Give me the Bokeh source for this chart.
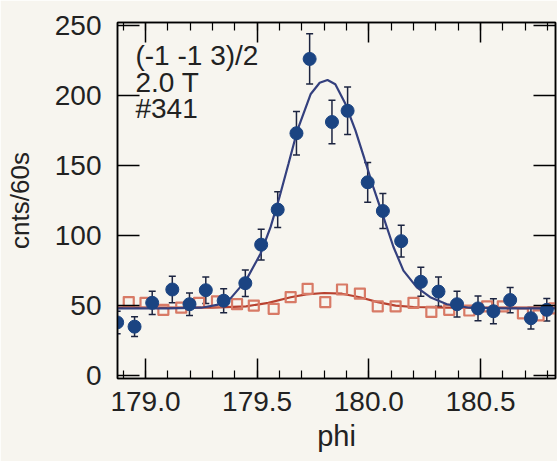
from bokeh.plotting import figure
from bokeh.models import (ColumnDataSource, Whisker, TeeHead, LinearAxis, Range1d,
                          SingleIntervalTicker, PrintfTickFormatter, Label)
from bokeh.embed import file_html
from bokeh.resources import INLINE

# ---- data ----
on_phi = [178.873, 178.951, 179.03, 179.12, 179.197, 179.27, 179.35, 179.447, 179.518,
          179.592, 179.676, 179.735, 179.835, 179.905, 179.995, 180.063, 180.145, 180.233,
          180.312, 180.395, 180.489, 180.558, 180.633, 180.726, 180.797]
on_cnt = [38, 35, 52, 61.5, 51, 61, 53.5, 66, 93.5, 118.5, 173, 226, 181, 189, 138,
          117.5, 96, 67, 60, 51, 48, 46, 54, 41, 47]
on_err = [8, 7, 8.3, 9.4, 8, 9.5, 8.5, 9.5, 11, 12.7, 15.5, 17.9, 15.5, 16.9, 14.2,
          12.5, 11.4, 10.4, 10.5, 9.2, 8.8, 8.9, 9, 7.7, 8]

off_phi = [178.925, 179.0, 179.08, 179.16, 179.24, 179.32, 179.41, 179.485, 179.574,
           179.65, 179.726, 179.805, 179.88, 179.96, 180.04, 180.12, 180.20, 180.28,
           180.36, 180.45, 180.53, 180.60, 180.69, 180.76, 180.83]
off_cnt = [52.5, 52, 47, 48.5, 52, 53, 51, 50, 47.7, 56, 62, 52.5, 61.5, 58.5, 49.5,
           49.5, 52, 45.5, 47, 46.5, 49.5, 49.5, 44.5, 43, 48]

on_fit_phi = [178.875, 179.10, 179.25, 179.32, 179.38, 179.45, 179.515, 179.56, 179.60,
              179.64, 179.68, 179.74, 179.78, 179.815, 179.85, 179.895, 179.94, 179.98,
              180.02, 180.066, 180.11, 180.155, 180.215, 180.275, 180.35, 180.45, 180.60,
              180.835]
on_fit_cnt = [48, 48, 48.5, 50.5, 55, 68, 87, 106, 127.5, 151, 175, 201, 209, 211, 208,
              194, 175, 155, 134.5, 113, 92, 75, 63, 56, 51, 48.5, 48, 48]

off_fit_phi = [178.875, 179.30, 179.45, 179.55, 179.65, 179.72, 179.80, 179.88, 179.96,
               180.04, 180.12, 180.20, 180.35, 180.835]
off_fit_cnt = [48.5, 48.5, 49.5, 52, 56, 58, 59, 58.5, 56, 52.5, 50, 49, 48.5, 48.5]

notes = ["(-1 -1 3)/2", "2.0 T", "#341"]

FONT = "Liberation Sans"
BG = "#f7f5ef"
INK = "#222222"
BLUE = "#1b4482"
BLUE_LINE = "#34407e"
RED_PT = "#d87a66"
RED_LINE = "#b8412f"

p = figure(width=557, height=461, output_backend="svg", toolbar_location=None,
           x_range=Range1d(178.8746, 180.836), y_range=Range1d(-2, 252),
           x_axis_location=None, y_axis_location=None,
           min_border_left=117, min_border_top=22, min_border_right=2, min_border_bottom=83)
p.background_fill_color = BG
p.border_fill_color = BG
p.outline_line_color = "black"
p.outline_line_width = 1.5
p.xgrid.visible = False
p.ygrid.visible = False


def style_axis(ax, labels=True):
    ax.axis_line_color = "black"
    ax.axis_line_width = 1.5
    ax.major_tick_line_color = "black"
    ax.minor_tick_line_color = "black"
    ax.major_tick_line_width = 1.5
    ax.minor_tick_line_width = 1.2
    ax.major_tick_out = 0
    ax.minor_tick_out = 0
    ax.major_label_text_font = FONT
    if labels:
        ax.major_label_text_color = INK
        ax.major_label_text_font_size = "28px"
    else:
        ax.major_label_text_color = None
        ax.major_label_text_font_size = "1px"
        ax.major_label_standoff = 0


xt = SingleIntervalTicker(interval=0.5, num_minor_ticks=5)
yt = SingleIntervalTicker(interval=50, num_minor_ticks=0)

xb = LinearAxis(ticker=xt, formatter=PrintfTickFormatter(format="%.1f"), axis_label="phi")
style_axis(xb)
xb.major_tick_in = 20
xb.minor_tick_in = 8
xb.major_label_standoff = 13
xb.axis_label_text_font = FONT
xb.axis_label_text_font_style = "normal"
xb.axis_label_text_font_size = "29px"
xb.axis_label_text_color = INK
xb.axis_label_standoff = 6
p.add_layout(xb, "below")

xtop = LinearAxis(ticker=xt)
style_axis(xtop, labels=False)
xtop.major_tick_in = 20
xtop.minor_tick_in = 8
p.add_layout(xtop, "above")

yl = LinearAxis(ticker=yt, axis_label="cnts/60s")
style_axis(yl)
yl.major_tick_in = 22
yl.major_label_standoff = 16
yl.axis_label_text_font = FONT
yl.axis_label_text_font_style = "normal"
yl.axis_label_text_font_size = "26px"
yl.axis_label_text_color = INK
yl.axis_label_standoff = 17
p.add_layout(yl, "left")

yr = LinearAxis(ticker=yt)
style_axis(yr, labels=False)
yr.major_tick_in = 22
p.add_layout(yr, "right")

# fits
p.line(off_fit_phi, off_fit_cnt, line_color=RED_LINE, line_width=2.2)
p.scatter(off_phi, off_cnt, marker="square", size=10, fill_color=None,
          line_color=RED_PT, line_width=2.2, line_join="round")
p.line(on_fit_phi, on_fit_cnt, line_color=BLUE_LINE, line_width=2.2)

src = ColumnDataSource(dict(x=on_phi, y=on_cnt,
                            lo=[c - e for c, e in zip(on_cnt, on_err)],
                            hi=[c + e for c, e in zip(on_cnt, on_err)]))
w = Whisker(base="x", lower="lo", upper="hi", source=src, line_color="#1c2440",
            line_width=1.5,
            upper_head=TeeHead(size=7, line_color="#1c2440", line_width=1.5),
            lower_head=TeeHead(size=7, line_color="#1c2440", line_width=1.5))
p.add_layout(w)
p.scatter("x", "y", source=src, marker="circle", size=13, fill_color=BLUE,
          line_color=BLUE)

# annotation text
note_y = [228.5, 209.5, 190.5]
for t, yy in zip(notes, note_y):
    p.add_layout(Label(x=178.955, y=yy, text=t, text_font=FONT,
                       text_font_size="28px", text_color=INK,
                       text_baseline="alphabetic"))

open("out.html", "w").write(file_html(p, INLINE))
